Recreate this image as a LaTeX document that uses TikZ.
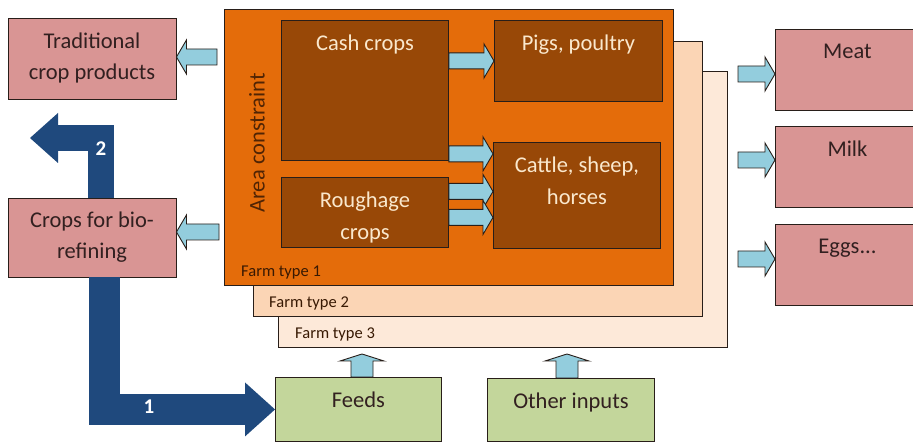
\documentclass[tikz,border=0pt]{standalone}
\usepackage{fontspec}
\setmainfont{Carlito}
\usepackage{tikz}
\usetikzlibrary{arrows.meta, calc, positioning}
\definecolor{pinkfill}{RGB}{217,149,148}
\definecolor{pinktext}{RGB}{50,32,32}
\definecolor{farmone}{RGB}{228,108,10}
\definecolor{farmtwo}{RGB}{251,213,181}
\definecolor{farmthree}{RGB}{253,233,217}
\definecolor{cropfill}{RGB}{152,72,7}
\definecolor{croptext}{RGB}{250,232,205}
\definecolor{feedfill}{RGB}{195,214,155}
\definecolor{flowblue}{RGB}{147,205,221}
\definecolor{bigblue}{RGB}{31,73,125}
\definecolor{areatext}{RGB}{80,36,4}
\definecolor{edge}{RGB}{40,30,25}
\tikzstyle{base} = [rectangle, draw=edge, line width=0.9pt, inner sep=0pt, align=center, font=\fontsize{22.5pt}{31pt}\selectfont]
\tikzstyle{pink} = [base, fill=pinkfill, text=pinktext]
\tikzstyle{crop} = [base, fill=cropfill, text=croptext, anchor=north west]
\tikzstyle{feed} = [base, fill=feedfill, text=pinktext, anchor=north west]
\tikzstyle{farm} = [base, anchor=north west, minimum width=449pt]
\tikzstyle{toptext} = [anchor=north, inner sep=0pt, yshift=-15pt, align=center, font=\fontsize{22.5pt}{32pt}\selectfont]
\tikzstyle{farmlabel} = [inner sep=0pt, text=areatext!70!black, font=\fontsize{16.5pt}{20pt}\selectfont]
\tikzstyle{number} = [text=white, font=\fontsize{21pt}{24pt}\selectfont\bfseries]
\tikzstyle{flow} = [draw=edge, fill=flowblue, line width=0.9pt]
\tikzstyle{bigarrow} = [draw=bigblue, line join=miter]
\tikzset{
  rflow/.style={flow, to path={($(\tikztostart)+(0,-8)$) -- ($(\tikztotarget)+(-10,-8)$) -- ($(\tikztotarget)+(-10,-17)$) -- (\tikztotarget) -- ($(\tikztotarget)+(-10,17)$) -- ($(\tikztotarget)+(-10,8)$) -- ($(\tikztostart)+(0,8)$) -- cycle}},
  lflow/.style={flow, to path={($(\tikztostart)+(0,-8)$) -- ($(\tikztotarget)+(10,-8)$) -- ($(\tikztotarget)+(10,-17)$) -- (\tikztotarget) -- ($(\tikztotarget)+(10,17)$) -- ($(\tikztotarget)+(10,8)$) -- ($(\tikztostart)+(0,8)$) -- cycle}},
  uflow/.style={flow, to path={($(\tikztostart)+(-11,0)$) -- ($(\tikztotarget)+(-11,7)$) -- ($(\tikztotarget)+(-22,7)$) -- (\tikztotarget) -- ($(\tikztotarget)+(22,7)$) -- ($(\tikztotarget)+(11,7)$) -- ($(\tikztostart)+(11,0)$) -- cycle}}
}

\begin{document}
\begin{tikzpicture}[x=1pt, y=-1pt]
\useasboundingbox (0,0) rectangle (913,443);
\clip (0,0) rectangle (913,443);
% farm types
\node [farm, fill=farmthree, minimum height=276pt] (farm3) at (278,71) {};
\node [farm, fill=farmtwo, minimum height=275pt] (farm2) at (253,41) {};
\node [farm, fill=farmone, minimum height=276pt] (farm1) at (224,9) {};
\node [farmlabel] (ft3) [above right=7pt and 17pt of farm3.south west] {Farm type 3};
\node [farmlabel] (ft2) [above right=7pt and 16pt of farm2.south west] {Farm type 2};
\node [farmlabel] (ft1) [above right=7pt and 17pt of farm1.south west] {Farm type 1};
\node [rotate=90, text=areatext, font=\fontsize{22.5pt}{31pt}\selectfont] (area) at (257,143) {Area constraint};
% crops and animals
\node [crop, minimum width=167pt, minimum height=140pt, label={[toptext, text=croptext]north:Cash crops}] (cash) at (281,20) {};
\node [crop, minimum width=167pt, minimum height=70pt, label={[toptext, text=croptext]north:Roughage\\crops}] (rough) at (281,177) {};
\node [crop, minimum width=168pt, minimum height=81pt, label={[toptext, text=croptext]north:Pigs, poultry}] (pigs) at (494,20) {};
\node [crop, minimum width=167pt, minimum height=106pt, label={[toptext, text=croptext]north:Cattle, sheep,\\horses}] (cattle) at (493,142) {};
% products
\node [pink, minimum width=168pt, minimum height=81pt] (trad) at (92,58.5) {Traditional\\crop products};
\node [pink, minimum width=168pt, minimum height=79pt] (bio) at (92,237.5) {Crops for bio-\\refining};
\node [pink, anchor=north west, minimum width=144pt, minimum height=81pt, label={[toptext, text=pinktext]north:Meat}] (meat) at (775,29) {};
\node [pink, anchor=north west, minimum width=144pt, minimum height=81pt, label={[toptext, text=pinktext]north:Milk}] (milk) at (775,126) {};
\node [pink, anchor=north west, minimum width=144pt, minimum height=81pt, label={[toptext, text=pinktext]north:Eggs...}] (eggs) at (775,224) {};
% inputs
\node [feed, minimum width=166pt, minimum height=64pt, label={[toptext, text=pinktext]north:Feeds}] (feeds) at (275,377) {};
\node [feed, minimum width=167pt, minimum height=63pt, label={[toptext, text=pinktext]north:Other inputs}] (other) at (487,378) {};
% flows
\coordinate (tradout) at (217,57);
\coordinate (bioout) at (219,232);
\coordinate (meatin) at (738,74);
\coordinate (milkin) at (738,160);
\coordinate (eggsin) at (738,259);
\coordinate (feedsup) at (362,354);
\coordinate (otherup) at (567,354);
\coordinate (c1) at ([yshift=7pt]cash.south east);
\coordinate (r1) at ([yshift=21pt]rough.east);
\coordinate (r2) at ([yshift=-5pt]rough.east);
\draw [lflow] (tradout) to (tradout -| trad.east);
\draw [lflow] (bioout) to (bioout -| bio.east);
\draw [rflow] (cash.east |- pigs.west) to (pigs.west);
\draw [rflow] (c1) to (c1 -| cattle.west);
\draw [rflow] (r1) to (r1 -| cattle.west);
\draw [rflow] (r2) to (r2 -| cattle.west);
\draw [rflow] (meatin) to (meatin -| meat.west);
\draw [rflow] (milkin) to (milkin -| milk.west);
\draw [rflow] (eggsin) to (eggsin -| eggs.west);
\draw [uflow] (feedsup |- feeds.north) to (feedsup);
\draw [uflow] (otherup |- other.north) to (otherup);
% bio-refining routes
\coordinate (back) at (30,138);
\draw [bigarrow, line width=31pt, -{Triangle[length=30pt, width=54pt, line width=0pt]}] ([xshift=12pt]bio.south) |- (feeds.west);
\draw [bigarrow, line width=26pt, -{Triangle[length=28pt, width=50pt, line width=0pt]}] ([xshift=9pt]bio.north) |- (back);
\node [number] (one) at (149,407) {1};
\node [number] (two) at (101,149) {2};
\end{tikzpicture}
\end{document}
